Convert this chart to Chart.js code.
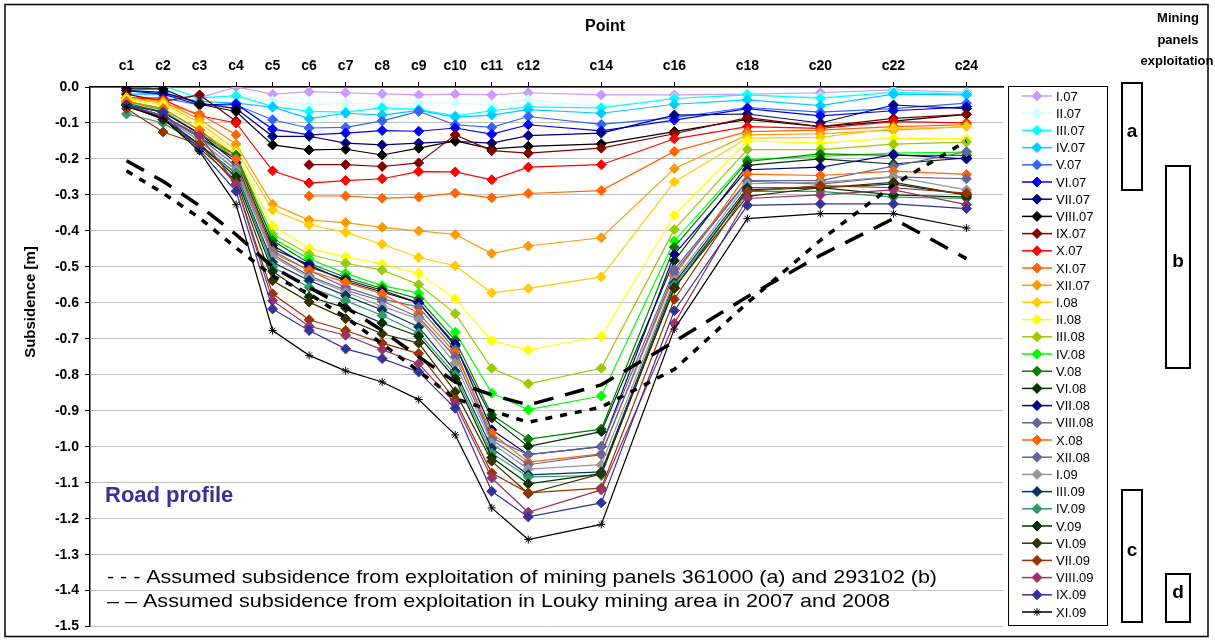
<!DOCTYPE html>
<html>
<head>
<meta charset="utf-8">
<title>Road profile subsidence</title>
<script src="https://cdn.jsdelivr.net/npm/chart.js@4.4.0/dist/chart.umd.min.js"></script>
<style>
  html, body { margin: 0; padding: 0; background: #fff; }
  #wrap { width: 1215px; height: 641px; }
</style>
</head>
<body>
<div id="wrap"><canvas id="chart" width="1215" height="641"></canvas></div>
<script>
// Subsidence of the road profile, levelling points c1..c24

const FONT = '"Liberation Sans", Arial, sans-serif';
const NARROW = '"Liberation Sans Narrow", "Arial Narrow", "Liberation Sans", sans-serif';

// x positions of the levelled points (c13, c15 ... were not measured)
const pointIndex = [1, 2, 3, 4, 5, 6, 7, 8, 9, 10, 11, 12, 14, 16, 18, 20, 22, 24];
const yTickValues = [0, -0.1, -0.2, -0.3, -0.4, -0.5, -0.6, -0.7, -0.8, -0.9, -1.0, -1.1, -1.2, -1.3, -1.4, -1.5];

// measurement campaigns
const seriesNames = ['I.07', 'II.07', 'III.07', 'IV.07', 'V.07', 'VI.07', 'VII.07', 'VIII.07', 'IX.07', 'X.07',
  'XI.07', 'XII.07', 'I.08', 'II.08', 'III.08', 'IV.08', 'V.08', 'VI.08', 'VII.08', 'VIII.08',
  'X.08', 'XII.08', 'I.09', 'III.09', 'IV.09', 'V.09', 'VI.09', 'VII.09', 'VIII.09', 'IX.09', 'XI.09'];
const seriesColors = ['#CC99FF', '#CCFFFF', '#00FFFF', '#00CCFF', '#3366FF', '#0000FF', '#000080', '#000000', '#800000', '#FF0000',
  '#FF6600', '#FF9900', '#FFCC00', '#FFFF00', '#99CC00', '#00FF00', '#008000', '#003300', '#000080', '#666699',
  '#FF6600', '#666699', '#969696', '#003366', '#339966', '#003300', '#333300', '#993300', '#993366', '#333399', '#000000'];

// subsidence [m], one value per point in pointIndex
const sI07    = [-0.02, -0.02, -0.03, 0.0, -0.02, -0.013, -0.016, -0.019, -0.022, -0.02, -0.022, -0.016, -0.022, -0.022, -0.02, -0.016, -0.008, -0.015];
const sII07   = [-0.02, -0.01, -0.035, -0.025, -0.038, -0.05, -0.045, -0.05, -0.045, -0.045, -0.05, -0.035, -0.055, -0.03, -0.022, -0.027, -0.012, -0.018];
const sIII07  = [-0.015, 0.003, -0.03, -0.024, -0.054, -0.068, -0.07, -0.058, -0.062, -0.08, -0.066, -0.055, -0.058, -0.032, -0.022, -0.031, -0.015, -0.02];
const sIV07   = [-0.02, -0.02, -0.04, -0.045, -0.056, -0.088, -0.073, -0.078, -0.065, -0.084, -0.078, -0.063, -0.073, -0.048, -0.036, -0.052, -0.02, -0.022];
const sV07    = [-0.03, -0.03, -0.05, -0.05, -0.091, -0.114, -0.112, -0.094, -0.068, -0.105, -0.112, -0.082, -0.104, -0.085, -0.057, -0.07, -0.06, -0.045];
const sVI07   = [-0.01, -0.02, -0.05, -0.047, -0.117, -0.133, -0.128, -0.121, -0.123, -0.114, -0.131, -0.105, -0.122, -0.092, -0.06, -0.08, -0.066, -0.055];
const sVII07  = [-0.01, -0.015, -0.045, -0.06, -0.137, -0.137, -0.156, -0.161, -0.156, -0.151, -0.156, -0.135, -0.128, -0.078, -0.075, -0.1, -0.05, -0.06];
const sVIII07 = [-0.005, -0.005, -0.048, -0.068, -0.161, -0.175, -0.173, -0.189, -0.17, -0.15, -0.172, -0.165, -0.158, -0.124, -0.09, -0.11, -0.095, -0.076];
const sIX07   = [-0.02, -0.04, -0.022, -0.095, null, -0.216, -0.216, -0.221, -0.211, -0.133, -0.177, -0.184, -0.17, -0.13, -0.085, -0.11, -0.087, -0.076];
const sX07    = [-0.03, -0.035, -0.08, -0.10, -0.233, -0.267, -0.26, -0.255, -0.235, -0.236, -0.258, -0.223, -0.216, -0.144, -0.11, -0.115, -0.096, -0.10];
const sXI07   = [-0.03, -0.045, -0.075, -0.133, null, -0.303, -0.303, -0.309, -0.306, -0.295, -0.308, -0.296, -0.288, -0.179, -0.124, -0.12, -0.11, -0.105];
const sXII07  = [-0.03, -0.04, -0.09, -0.159, -0.326, -0.37, -0.377, -0.39, -0.40, -0.41, -0.463, -0.442, -0.419, -0.227, -0.133, -0.13, -0.12, -0.11];
const sI08    = [-0.03, -0.045, -0.1, -0.175, -0.342, -0.383, -0.404, -0.437, -0.474, -0.497, -0.572, -0.56, -0.528, -0.264, -0.142, -0.14, -0.115, -0.11];
const sII08   = [-0.035, -0.05, -0.11, -0.185, -0.386, -0.448, -0.472, -0.492, -0.518, -0.589, -0.705, -0.731, -0.693, -0.356, -0.15, -0.156, -0.142, -0.144];
const sIII08  = [-0.04, -0.06, -0.12, -0.19, -0.409, -0.465, -0.49, -0.509, -0.549, -0.63, -0.782, -0.825, -0.782, -0.396, -0.174, -0.174, -0.159, -0.153];
const sIV08   = [-0.04, -0.065, -0.13, -0.2, -0.42, -0.478, -0.518, -0.552, -0.573, -0.682, -0.851, -0.897, -0.859, -0.428, -0.202, -0.193, -0.184, -0.181];
const sV08    = [-0.045, -0.07, -0.13, -0.19, -0.427, -0.49, -0.529, -0.56, -0.589, -0.704, -0.911, -0.979, -0.951, -0.445, -0.207, -0.186, -0.19, -0.19];
const sVI08   = [-0.05, -0.08, -0.14, -0.2, -0.44, -0.5, -0.535, -0.565, -0.6, -0.72, -0.92, -0.999, -0.958, -0.483, -0.218, -0.2, -0.214, -0.197];
const sVII08  = [-0.05, -0.07, -0.13, -0.21, -0.45, -0.494, -0.54, -0.57, -0.6, -0.715, -0.953, -1.022, -1.0, -0.465, -0.23, -0.223, -0.188, -0.2];
const sVIII08 = [-0.05, -0.08, -0.14, -0.22, -0.455, -0.51, -0.557, -0.589, -0.612, -0.73, -0.976, -1.022, -0.999, -0.507, -0.26, -0.26, -0.22, -0.18];
const sX08    = [-0.04, -0.06, -0.12, -0.2, -0.46, -0.51, -0.543, -0.575, -0.629, -0.739, -0.962, -1.043, -1.02, -0.525, -0.242, -0.246, -0.234, -0.243];
const sXII08  = [-0.05, -0.08, -0.15, -0.23, -0.465, -0.525, -0.565, -0.595, -0.64, -0.75, -0.98, -1.05, -1.022, -0.515, -0.262, -0.27, -0.25, -0.255];
const sI09    = [-0.05, -0.08, -0.15, -0.23, -0.47, -0.53, -0.57, -0.61, -0.645, -0.768, -0.99, -1.062, -1.05, -0.537, -0.269, -0.265, -0.249, -0.286];
const sIII09  = [-0.05, -0.085, -0.16, -0.24, -0.487, -0.538, -0.58, -0.62, -0.667, -0.79, -1.004, -1.078, -1.07, -0.545, -0.28, -0.28, -0.27, -0.3];
const sIV09   = [-0.075, -0.1, -0.16, -0.24, -0.5, -0.557, -0.594, -0.635, -0.684, -0.8, -1.018, -1.084, -1.08, -0.55, -0.29, -0.29, -0.306, -0.31];
const sV09    = [-0.05, -0.09, -0.16, -0.25, -0.512, -0.583, -0.614, -0.656, -0.693, -0.81, -1.03, -1.103, -1.075, -0.56, -0.286, -0.28, -0.3, -0.306];
const sVI09   = [-0.05, -0.09, -0.17, -0.26, -0.538, -0.598, -0.644, -0.686, -0.712, -0.847, -1.04, -1.13, -1.075, -0.557, -0.304, -0.28, -0.265, -0.3];
const sVII09  = [-0.06, -0.125, -0.16, -0.27, -0.575, -0.647, -0.677, -0.712, -0.741, -0.87, -1.073, -1.128, -1.115, -0.59, -0.29, -0.274, -0.28, -0.295];
const sVIII09 = [-0.05, -0.08, -0.135, -0.27, -0.594, -0.665, -0.69, -0.73, -0.769, -0.88, -1.087, -1.182, -1.12, -0.657, -0.31, -0.30, -0.286, -0.327];
const sIX09   = [-0.05, -0.07, -0.175, -0.29, -0.617, -0.677, -0.728, -0.755, -0.792, -0.893, -1.124, -1.195, -1.156, -0.622, -0.329, -0.325, -0.325, -0.338];
const sXI09   = [-0.055, -0.087, -0.179, -0.327, -0.677, -0.746, -0.789, -0.82, -0.869, -0.967, -1.17, -1.258, -1.216, -0.673, -0.366, -0.352, -0.352, -0.392];

const seriesValues = [sI07, sII07, sIII07, sIV07, sV07, sVI07, sVII07, sVIII07, sIX07, sX07,
  sXI07, sXII07, sI08, sII08, sIII08, sIV08, sV08, sVI08, sVII08, sVIII08,
  sX08, sXII08, sI09, sIII09, sIV09, sV09, sVI09, sVII09, sVIII09, sIX09, sXI09];

// assumed (predicted) subsidence curves
const assumedPanels = [-0.233, -0.295, -0.364, -0.447, -0.525, -0.575, -0.64, -0.714, -0.79, -0.866, -0.9, -0.932, -0.89, -0.785, -0.6, -0.426, -0.272, -0.15];
const assumedLouky  = [-0.205, -0.262, -0.33, -0.41, -0.5, -0.557, -0.612, -0.677, -0.75, -0.82, -0.856, -0.884, -0.828, -0.708, -0.583, -0.468, -0.366, -0.477];

function toPoints(values) {
  return pointIndex.map((x, i) => ({ x: x, y: values[i] }));
}

const datasets = seriesValues.map((vals, i) => {
  const isStar = i === seriesValues.length - 1;
  return {
    label: seriesNames[i],
    data: toPoints(vals),
    borderColor: seriesColors[i],
    backgroundColor: seriesColors[i],
    borderWidth: 1.2,
    pointStyle: isStar ? 'star' : 'rectRot',
    pointRadius: isStar ? 4 : 5,
    pointBorderWidth: 1,
    pointBorderColor: seriesColors[i],
    pointBackgroundColor: seriesColors[i],
    spanGaps: false,
    order: 100 - i
  };
});

datasets.push({
  label: 'panels',
  isGuide: true,
  data: toPoints(assumedPanels),
  borderColor: '#000',
  borderWidth: 3.5,
  borderDash: [7, 8],
  pointRadius: 0,
  order: 1
});
datasets.push({
  label: 'louky',
  isGuide: true,
  data: toPoints(assumedLouky),
  borderColor: '#000',
  borderWidth: 3.5,
  borderDash: [20, 12],
  pointRadius: 0,
  order: 0
});

// legend box on the right side, drawn from the datasets
const sideLegend = {
  id: 'sideLegend',
  afterDraw(chart) {
    const ctx = chart.ctx;
    ctx.save();
    ctx.strokeStyle = '#000';
    ctx.lineWidth = 1;
    ctx.strokeRect(1008.5, 86.5, 99, 539);
    const sets = chart.data.datasets.filter(d => !d.isGuide);
    sets.forEach((ds, i) => {
      const y = 96 + i * 17.2;
      ctx.strokeStyle = ds.borderColor;
      ctx.lineWidth = 1.5;
      ctx.setLineDash([]);
      ctx.beginPath();
      ctx.moveTo(1022, y);
      ctx.lineTo(1052, y);
      ctx.stroke();
      ctx.fillStyle = ds.pointBackgroundColor;
      ctx.strokeStyle = ds.pointBorderColor;
      ctx.lineWidth = 1;
      Chart.helpers.drawPoint(ctx, { pointStyle: ds.pointStyle, radius: ds.pointRadius, borderWidth: 1, rotation: 0 }, 1037, y);
      ctx.fillStyle = '#000';
      ctx.font = '13px ' + FONT;
      ctx.textAlign = 'left';
      ctx.textBaseline = 'middle';
      ctx.fillText(ds.label, 1056, y + 1);
    });
    ctx.restore();
  }
};

function fitText(ctx, text, x, y, width) {
  const w = ctx.measureText(text).width;
  ctx.save();
  ctx.translate(x, y);
  ctx.scale(width / w, 1);
  ctx.fillText(text, 0, 0);
  ctx.restore();
}

// titles, notes, mining panel boxes and frame
const chartTexts = {
  id: 'chartTexts',
  afterDraw(chart) {
    const ctx = chart.ctx;
    ctx.save();
    ctx.fillStyle = '#000';
    ctx.textAlign = 'center';
    ctx.textBaseline = 'middle';

    ctx.font = 'bold 16px ' + FONT;
    ctx.fillText('Point', 605, 27);

    ctx.save();
    ctx.translate(31, 302);
    ctx.rotate(-Math.PI / 2);
    ctx.font = 'bold 15px ' + FONT;
    ctx.fillText('Subsidence [m]', 0, 0);
    ctx.restore();

    ctx.font = 'bold 13px ' + FONT;
    ctx.fillText('Mining', 1178, 18);
    ctx.fillText('panels', 1178, 40);
    ctx.fillText('exploitation', 1177, 61);

    ctx.lineWidth = 2;
    ctx.strokeStyle = '#000';
    const boxes = [
      ['a', 1122, 83, 20, 107],
      ['b', 1166, 166, 24, 202],
      ['c', 1122, 490, 20, 132],
      ['d', 1166, 574, 24, 48]
    ];
    ctx.font = 'bold 19px ' + FONT;
    boxes.forEach(b => {
      ctx.strokeRect(b[1], b[2], b[3], b[4]);
      ctx.fillText(b[0], b[1] + b[3] / 2, b[2] + b[4] / 2 - 5);
    });

    ctx.textAlign = 'left';
    ctx.fillStyle = '#333399';
    ctx.font = 'bold 22px ' + FONT;
    ctx.fillText('Road profile', 105, 496);

    ctx.fillStyle = '#000';
    ctx.font = '19px ' + NARROW;
    fitText(ctx, '- - - Assumed subsidence from exploitation of mining panels 361000 (a) and 293102 (b)', 107, 578, 830);
    fitText(ctx, '\u2013 \u2013 Assumed subsidence from exploitation in Louky mining area in 2007 and 2008', 107, 602, 783);

    ctx.lineWidth = 1.5;
    ctx.strokeRect(5, 4.5, 1203, 632);
    ctx.restore();
  }
};

new Chart(document.getElementById('chart'), {
  type: 'line',
  data: { datasets: datasets },
  options: {
    responsive: false,
    animation: false,
    layout: { padding: { left: 0, right: 212, top: 0, bottom: 13 } },
    plugins: {
      legend: { display: false },
      tooltip: { enabled: false }
    },
    scales: {
      x: {
        type: 'linear',
        position: 'top',
        min: 0,
        max: 25,
        afterBuildTicks: s => { s.ticks = pointIndex.map(v => ({ value: v })); },
        afterFit: s => { s.height = 87; },
        ticks: {
          autoSkip: false,
          maxRotation: 0,
          padding: 7,
          color: '#000',
          font: { family: FONT, size: 14, weight: 'bold' },
          callback: v => 'c' + v
        },
        grid: { drawOnChartArea: false, drawTicks: true, tickLength: 5, tickColor: '#000' },
        border: { color: '#000', width: 1.5 }
      },
      y: {
        min: -1.5,
        max: 0,
        afterBuildTicks: s => { s.ticks = yTickValues.map(v => ({ value: v })); },
        afterFit: s => { s.width = 90; },
        ticks: {
          padding: 6,
          color: '#000',
          font: { family: FONT, size: 14, weight: 'bold' },
          callback: v => v.toFixed(1)
        },
        grid: { color: '#c0c0c0', tickColor: '#000', tickLength: 5 },
        border: { color: '#000', width: 1.5 }
      }
    }
  },
  plugins: [sideLegend, chartTexts]
});
</script>
</body>
</html>
